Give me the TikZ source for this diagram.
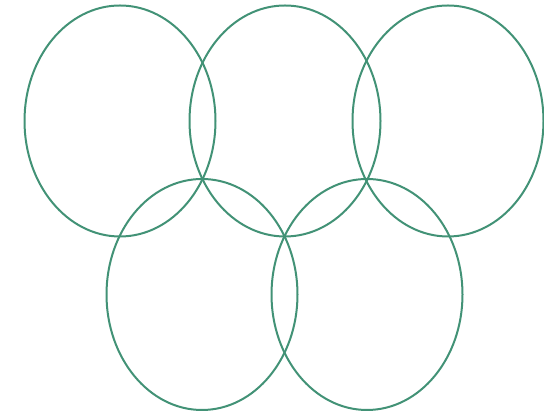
\documentclass[tikz,border=0pt]{standalone}
\usepackage{tikz}
\usetikzlibrary{shapes.geometric}
\definecolor{ringgreen}{RGB}{66,146,118}
\tikzset{
    % Rings
    ring/.style={ellipse, draw=ringgreen, line width=2pt,
                minimum width=191pt, minimum height=231pt, inner sep=0pt},
}
\begin{document}
\begin{tikzpicture}[x=1pt, y=1pt]
\useasboundingbox (0,0) rectangle (544,411);
\node[ring] (r1) at (120,290)   {};
\node[ring] (r2) at (285,290)   {};
\node[ring] (r3) at (448,290)   {};
\node[ring] (r4) at (202,116.5) {};
\node[ring] (r5) at (367,116.5) {};
\end{tikzpicture}
\end{document}
